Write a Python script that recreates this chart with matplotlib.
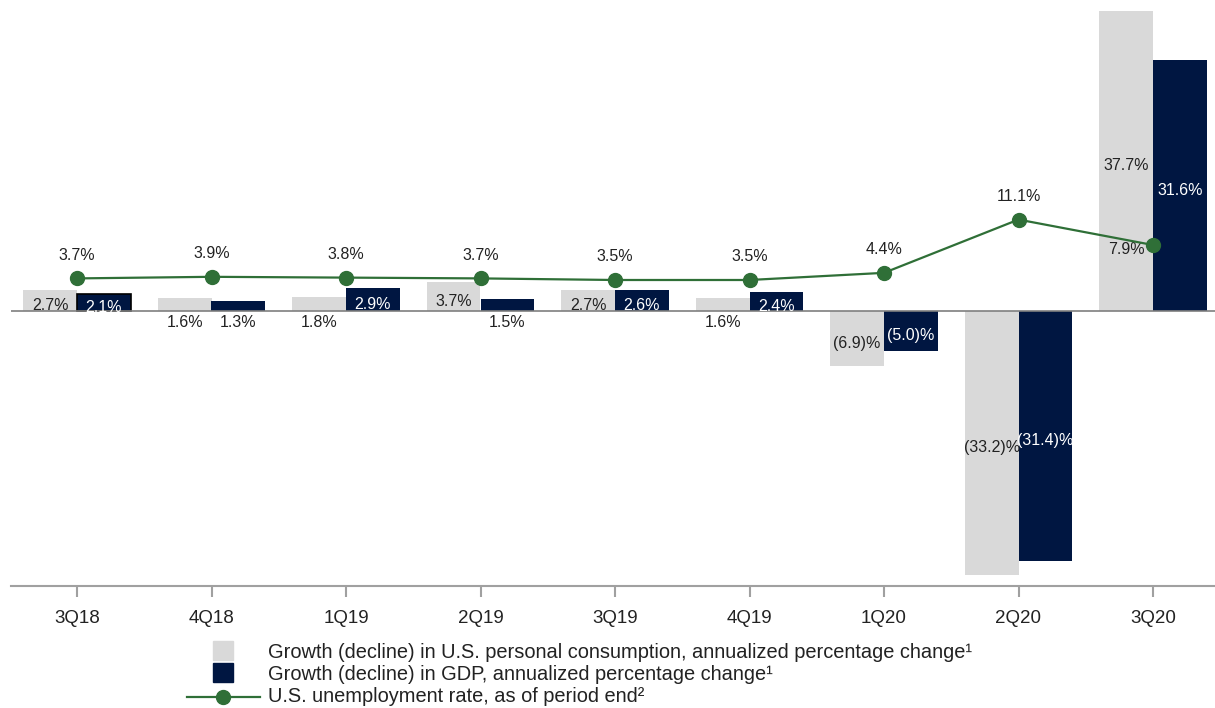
import matplotlib
matplotlib.use('Agg')
import matplotlib.pyplot as plt
from matplotlib.patches import Rectangle
from matplotlib.lines import Line2D

plt.rcParams['font.family'] = ['Liberation Sans', 'DejaVu Sans']

quarters = ['3Q18', '4Q18', '1Q19', '2Q19', '3Q19', '4Q19', '1Q20', '2Q20', '3Q20']
consumption = [2.7, 1.6, 1.8, 3.7, 2.7, 1.6, -6.9, -33.2, 37.7]
gdp = [2.1, 1.3, 2.9, 1.5, 2.6, 2.4, -5.0, -31.4, 31.6]
unemployment = [3.7, 3.9, 3.8, 3.7, 3.5, 3.5, 4.4, 11.1, 7.9]

GRAY = '#d9d9d9'
NAVY = '#001641'
GREEN = '#2f6f37'
TXT = '#222222'

W, H = 1215, 708
fig = plt.figure(figsize=(W / 100, H / 100), dpi=100)
s = 7.95  # px per percentage point
zero_px = 311
top_px, bot_px = 5, 586
left_px = 11
ax = fig.add_axes([left_px / W, 1 - bot_px / H, 1 - left_px / W, (bot_px - top_px) / H])
ax.set_ylim(-(bot_px - zero_px) / s, (zero_px - top_px) / s)
ax.set_xlim((left_px - 77) / 134.5, (W - 77) / 134.5)

x = list(range(len(quarters)))
bw = 0.40
ax.bar([i - bw / 2 for i in x], consumption, bw, color=GRAY, zorder=2)
bars = ax.bar([i + bw / 2 for i in x], gdp, bw, color=NAVY, zorder=2)
bars[0].set_edgecolor('black')
bars[0].set_linewidth(1.2)
ax.axhline(0, color='#7f7f7f', lw=1.2, zorder=3)


def fmt(v):
    return f'({abs(v):.1f})%' if v < 0 else f'{v:.1f}%'


for i in x:
    for v, dx, inside_col in [(consumption[i], -bw / 2, TXT), (gdp[i], bw / 2, 'white')]:
        if abs(v) >= 2:
            ax.text(i + dx, v / 2 - 0.6, fmt(v), ha='center', va='center',
                    fontsize=11.5, color=inside_col, zorder=5)
        else:
            ax.text(i + dx, -1.5, fmt(v), ha='center', va='center',
                    fontsize=11.5, color=TXT, zorder=5)

# unemployment line on a slightly offset hidden axis
ax2 = ax.twinx()
lo, hi = ax.get_ylim()
ax2.set_ylim(lo - 0.4, hi - 0.4)
ax2.axis('off')
ax2.plot(x, unemployment, color=GREEN, lw=1.6, marker='o', markersize=10, zorder=6)
for i, u in enumerate(unemployment):
    if i == len(unemployment) - 1:
        ax2.text(i - 0.06, u - 0.6, fmt(u), ha='right', va='center', fontsize=11.5, color=TXT)
    else:
        ax2.text(i, u + 2.9, fmt(u), ha='center', va='center', fontsize=11.5, color=TXT)

for sp in ['top', 'right', 'left']:
    ax.spines[sp].set_visible(False)
ax.spines['bottom'].set_color('#a0a0a0')
ax.spines['bottom'].set_linewidth(1.5)
ax.set_yticks([])
ax.set_xticks(x)
ax.set_xticklabels(quarters, fontsize=13.5, color=TXT)
ax.tick_params(axis='x', length=8, width=1.5, color='#a0a0a0', pad=9)

# legend
def fx(px):
    return px / W


def fy(py):
    return 1 - py / H


fig.add_artist(Rectangle((fx(213), fy(660)), fx(20), 19 / H, color=GRAY, transform=fig.transFigure))
fig.add_artist(Rectangle((fx(213), fy(682)), fx(20), 19 / H, color=NAVY, transform=fig.transFigure))
fig.add_artist(Line2D([fx(187), fx(260)], [fy(697), fy(697)], color=GREEN, lw=1.6,
                      transform=fig.transFigure))
fig.add_artist(Line2D([fx(223)], [fy(697)], color=GREEN, marker='o', markersize=10,
                      transform=fig.transFigure))
legend_texts = ['Growth (decline) in U.S. personal consumption, annualized percentage change¹',
                'Growth (decline) in GDP, annualized percentage change¹',
                'U.S. unemployment rate, as of period end²']
for k, t in enumerate(legend_texts):
    fig.text(fx(268), fy(652 + 22 * k), t, ha='left', va='center', fontsize=14.4, color=TXT)

fig.savefig('out.png', dpi=100)
